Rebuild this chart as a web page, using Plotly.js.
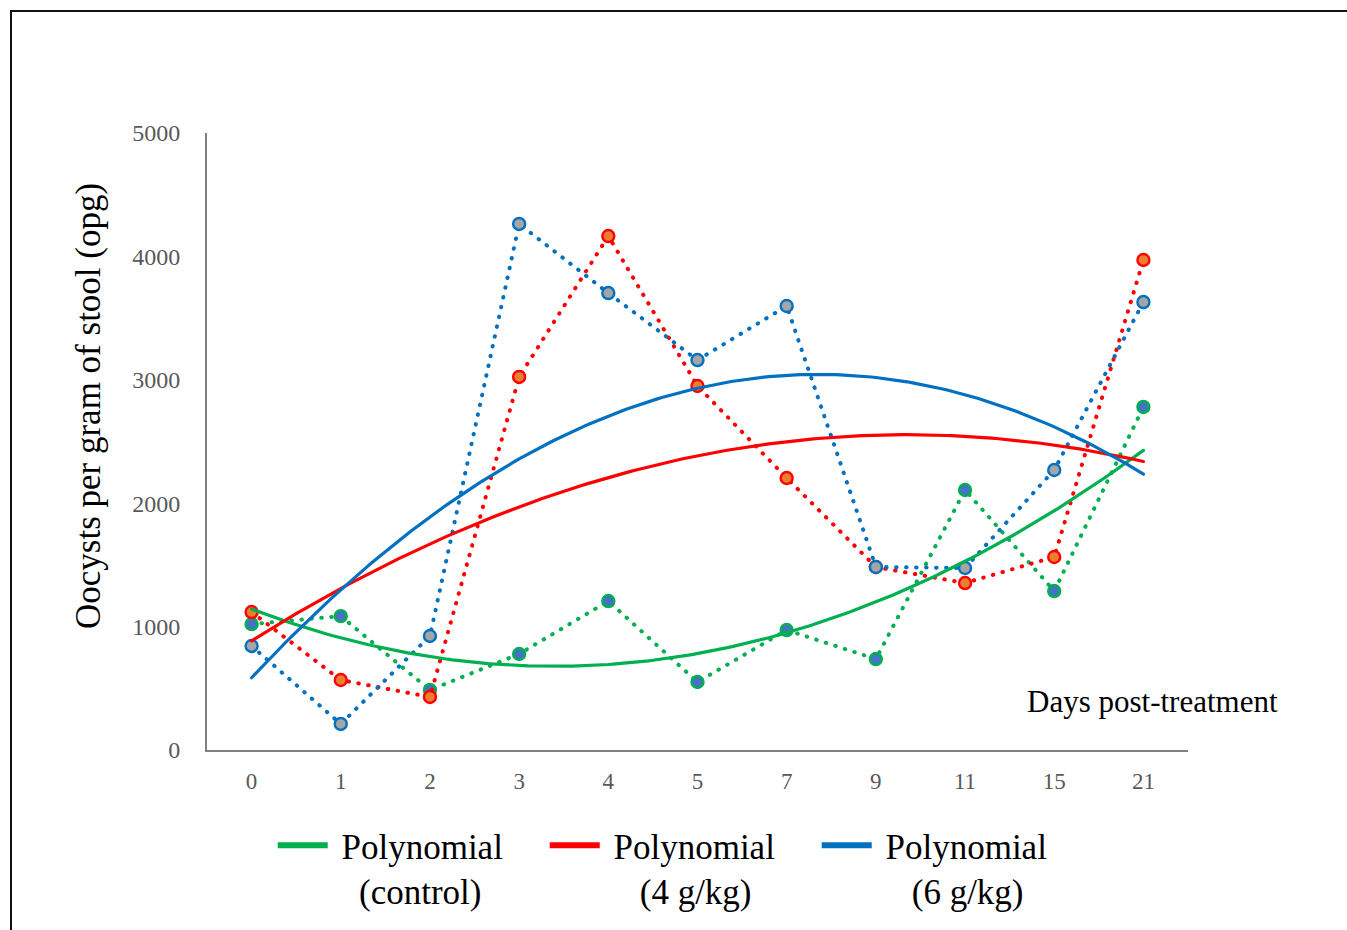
<!DOCTYPE html>
<html><head><meta charset="utf-8">
<script src="https://cdn.plot.ly/plotly-3.0.1.min.js"></script>
<style>
html,body{margin:0;padding:0;background:#fff;}
#wrap{position:relative;width:1347px;height:930px;overflow:hidden;}
#frame{position:absolute;left:10px;top:10px;width:1400px;height:1000px;border:2px solid #111;box-sizing:border-box;pointer-events:none;}
#chart{position:absolute;left:0;top:0;width:1347px;height:930px;}
.scatterlayer .js-line{stroke-linecap:round;}
</style></head>
<body><div id="wrap"><div id="chart"></div><div id="frame"></div></div>
<script>
const days = ['0','1','2','3','4','5','7','9','11','15','21'];
const control = [1020, 1085, 486, 778, 1207, 551, 972, 737, 2107, 1288, 2780];
const dose4 = [1118, 567, 430, 3023, 4165, 2950, 2204, 1483, 1353, 1564, 3971];
const dose6 = [843, 211, 924, 4263, 3703, 3160, 3598, 1483, 1475, 2269, 3630];
const NB = '\u00A0';
const legendNames = [
  NB + 'Polynomial<br>' + NB.repeat(3) + '(control)',
  NB + 'Polynomial<br>' + NB.repeat(4) + '(4 g/kg)',
  NB + 'Polynomial<br>' + NB.repeat(4) + '(6 g/kg)'
];

const idx = days.map((d, i) => i);
const SERIF = 'Liberation Serif, Times New Roman, serif';

// least-squares quadratic trendline (as in the spreadsheet's polynomial trendline)
function quadFit(xs, ys) {
  let n = xs.length, s = [0,0,0,0,0], t = [0,0,0];
  for (let i = 0; i < n; i++) {
    let p = 1;
    for (let k = 0; k < 5; k++) { s[k] += p; if (k < 3) t[k] += p * ys[i]; p *= xs[i]; }
  }
  const A = [[s[0], s[1], s[2], t[0]], [s[1], s[2], s[3], t[1]], [s[2], s[3], s[4], t[2]]];
  for (let c = 0; c < 3; c++) {
    for (let r = c + 1; r < 3; r++) {
      const f = A[r][c] / A[c][c];
      for (let k = c; k < 4; k++) A[r][k] -= f * A[c][k];
    }
  }
  const co = [0, 0, 0];
  for (let r = 2; r >= 0; r--) {
    let v = A[r][3];
    for (let k = r + 1; k < 3; k++) v -= A[r][k] * co[k];
    co[r] = v / A[r][r];
  }
  return co;
}
function trend(ys) {
  const co = quadFit(idx, ys);
  const xs = [], out = [];
  for (let i = 0; i <= 200; i++) { const x = i * 10 / 200; xs.push(x); out.push(co[0] + co[1] * x + co[2] * x * x); }
  return {x: xs, y: out};
}

const series = [
  {y: control, line: '#00B050', fill: '#4472C4'},
  {y: dose4, line: '#FF0000', fill: '#ED7D31'},
  {y: dose6, line: '#0070C0', fill: '#A5A5A5'}
];
const traces = [];
series.forEach(s => {
  traces.push({x: idx, y: s.y, type: 'scatter', mode: 'lines+markers', showlegend: false,
    line: {color: s.line, width: 4, dash: '0.5px,9.5px'},
    marker: {size: 12, color: s.fill, line: {color: s.line, width: 2.4}}});
});
series.forEach(s => {
  const t = trend(s.y);
  traces.push({x: t.x, y: t.y, type: 'scatter', mode: 'lines', showlegend: false,
    line: {color: s.line, width: 3.2}});
});
series.forEach((s, i) => {
  traces.push({x: [null], y: [null], type: 'scatter', mode: 'lines', name: legendNames[i],
    line: {color: s.line, width: 6}});
});

const layout = {
  width: 1347, height: 930,
  margin: {l: 207, r: 159, t: 133, b: 180, autoexpand: false},
  paper_bgcolor: '#fff', plot_bgcolor: '#fff',
  font: {family: SERIF},
  xaxis: {range: [-0.5, 10.5], tickvals: idx, ticktext: days, showgrid: false, zeroline: false,
    showline: true, linecolor: '#7f7f7f', linewidth: 2, ticks: '', ticklabelstandoff: 9,
    tickfont: {family: SERIF, size: 23, color: '#595959'}},
  yaxis: {range: [0, 5000], dtick: 1000, tick0: 0, showgrid: false, zeroline: false,
    showline: true, linecolor: '#7f7f7f', linewidth: 2, ticks: '', ticklabelstandoff: 20,
    tickfont: {family: SERIF, size: 24, color: '#595959'}},
  showlegend: true,
  legend: {orientation: 'h', x: 0.067, xanchor: 'left', y: -0.107, yanchor: 'top',
    font: {family: SERIF, size: 35, color: '#000'}, valign: 'top', itemwidth: 50,
    entrywidth: 207, entrywidthmode: 'pixels', traceorder: 'normal', bgcolor: 'rgba(0,0,0,0)'},
  annotations: [
    {text: 'Oocysts per gram of stool (opg)', xref: 'paper', yref: 'paper', x: -0.1213, y: 0.5575,
      textangle: -90, showarrow: false, xanchor: 'center', yanchor: 'middle',
      font: {family: SERIF, size: 35, color: '#000'}},
    {text: 'Days post-treatment', xref: 'paper', yref: 'paper', x: 0.9643, y: 0.0778,
      showarrow: false, xanchor: 'center', yanchor: 'middle',
      font: {family: SERIF, size: 31, color: '#000'}}
  ]
};
Plotly.newPlot('chart', traces, layout, {displayModeBar: false, staticPlot: true});
</script></body></html>
